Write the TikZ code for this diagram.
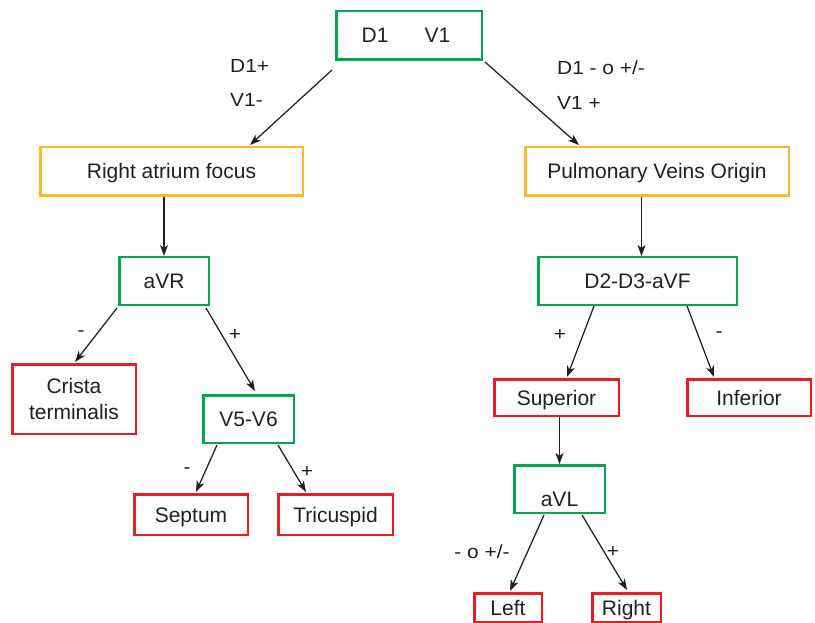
\documentclass[tikz,border=0pt]{standalone}
\usepackage{fontspec}
\usepackage{graphicx}
\setmainfont{Liberation Sans}
\usetikzlibrary{arrows.meta,calc}
\definecolor{bgreen}{RGB}{0,166,81}
\definecolor{borange}{RGB}{250,185,40}
\definecolor{bred}{RGB}{237,28,36}
\definecolor{ink}{RGB}{35,31,32}
\newcommand{\stretchlab}[1]{\scalebox{1.1}[1]{#1}}
\begin{document}
\begin{tikzpicture}[x=1pt,y=-1pt,
  box/.style={draw,line width=2.5pt,inner sep=0pt,text=ink,
    font=\fontsize{21}{25.5}\selectfont},
  captext/.style={text height=15pt,text depth=0pt},
  gbox/.style={box,draw=bgreen},
  obox/.style={box,draw=borange},
  rbox/.style={box,draw=bred},
  lab/.style={inner sep=0pt,text=ink,font=\fontsize{19}{22}\selectfont},
  arr/.style={draw=ink,line width=1.25pt,-{Stealth[length=11pt,width=8pt,inset=3pt]}}]
\useasboundingbox (0,0) rectangle (815,623);
% boxes
\node[gbox,captext,minimum width=145.5pt,minimum height=48.5pt] (top) at (409,35.5) {\hspace{-6pt}D1\hspace{36pt}V1};
\node[obox,captext,minimum width=262.5pt,minimum height=48.5pt] (rat) at (171.5,171.5) {Right atrium focus};
\node[obox,captext,minimum width=263.5pt,minimum height=48.5pt] (pv) at (657,171.5) {Pulmonary Veins Origin};
\node[gbox,captext,minimum width=89.5pt,minimum height=47.5pt] (avr) at (164,281) {aVR};
\node[gbox,captext,minimum width=198.5pt,minimum height=47.5pt] (dd) at (637.5,281) {D2-D3-aVF};
\node[rbox,align=center,minimum width=123.5pt,minimum height=69.5pt] (crista) at (74,399) {Crista\\terminalis};
\node[gbox,captext,minimum width=90.5pt,minimum height=47.5pt] (v56) at (248.5,419) {V5-V6};
\node[rbox,captext,minimum width=124.5pt,minimum height=36.5pt] (sup) at (556.5,397.5) {Superior};
\node[rbox,captext,minimum width=123.5pt,minimum height=36.5pt] (inf) at (749,397.5) {Inferior};
\node[rbox,captext,minimum width=113.5pt,minimum height=40.5pt] (sep) at (191,514.5) {Septum};
\node[rbox,captext,minimum width=114.5pt,minimum height=40.5pt] (tri) at (335.5,514.5) {Tricuspid};
\node[gbox,minimum width=90.5pt,minimum height=47.5pt] (avl) at (559.5,489) {};
\node[captext,inner sep=0pt,text=ink,font=\fontsize{21}{25.5}\selectfont] (avltext) at (559.5,498.5) {aVL};
\node[rbox,captext,minimum width=67.5pt,minimum height=28.5pt] (left) at (508,607.5) {Left};
\node[rbox,captext,minimum width=68.5pt,minimum height=28.5pt] (right) at (626.5,607.5) {Right};
% labels
\node[lab,anchor=west] (l1) at (230,66) {\stretchlab{D1+}};
\node[lab,anchor=west] (l2) at (230,100) {\stretchlab{V1-}};
\node[lab,anchor=west] (l3) at (557,68) {\stretchlab{D1 - o +/-}};
\node[lab,anchor=west] (l4) at (557,103) {\stretchlab{V1 +}};
\node[lab] (l5) at (81,334) {\stretchlab{-}};
\node[lab] (l6) at (235,335) {\stretchlab{+}};
\node[lab] (l7) at (560,335) {\stretchlab{+}};
\node[lab] (l8) at (719,335) {\stretchlab{-}};
\node[lab] (l9) at (187,471) {\stretchlab{-}};
\node[lab] (l10) at (307,472) {\stretchlab{+}};
\node[lab] (l11) at (482,552) {\stretchlab{- o +/-}};
\node[lab] (l12) at (613,552) {\stretchlab{+}};
% connectors
\draw[arr] ($(top)+(-77,34.5)$) -- ($(rat)+(78.5,-26.5)$);
\draw[arr] ($(top)+(76,26.5)$) -- ($(pv)+(-78,-26.5)$);
\draw[arr] (avr.north |- rat.south) -- (avr.north);
\draw[arr] ($(dd.north |- pv.south)+(4,0)$) -- ($(dd.north)+(4,0)$);
\draw[arr] ($(avr)+(-47,27)$) -- ($(crista)+(1,-37)$);
\draw[arr] ($(avr)+(42,27)$) -- ($(v56)+(6.5,-28)$);
\draw[arr] ($(dd)+(-43.5,25)$) -- ($(sup)+(10.5,-20.5)$);
\draw[arr] ($(dd)+(49.5,25)$) -- ($(inf)+(-35,-20.5)$);
\draw[arr] (avl.north |- sup.south) -- (avl.north);
\draw[arr] ($(v56)+(-31.5,26)$) -- ($(sep)+(5,-22.5)$);
\draw[arr] ($(v56)+(29.5,26)$) -- ($(tri)+(-29.5,-22.5)$);
\draw[arr] ($(avl)+(-15.5,26)$) -- ($(left)+(2,-16.5)$);
\draw[arr] ($(avl)+(22.5,26)$) -- ($(right)+(0.5,-17.5)$);
\end{tikzpicture}
\end{document}
